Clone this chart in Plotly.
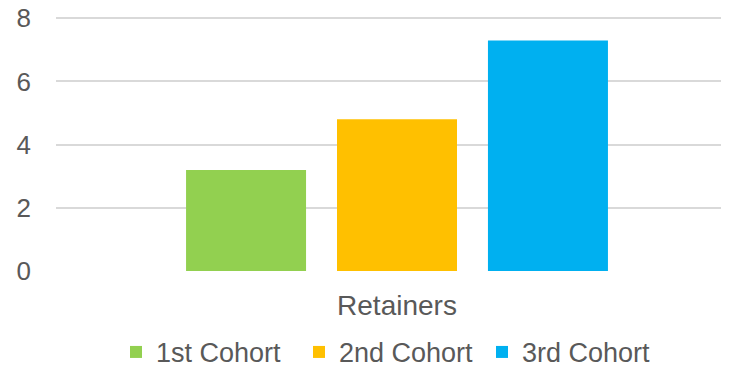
import plotly.graph_objects as go

categories = ["Retainers"]
series_names = ["1st Cohort", "2nd Cohort", "3rd Cohort"]
values_1st = [3.2]
values_2nd = [4.8]
values_3rd = [7.3]
colors = ["#92D050", "#FFC000", "#00B0F0"]
y_ticks = [0, 2, 4, 6, 8]

fig = go.Figure()
for name, vals, col in zip(series_names, [values_1st, values_2nd, values_3rd], colors):
    fig.add_trace(go.Bar(x=categories, y=vals, name=name,
                         marker=dict(color=col, line=dict(width=0))))

font_family = "Liberation Sans, Arial, sans-serif"
txt = "#595959"

# page body has an 8px margin, so the figure is offset by 8px
fig.update_layout(
    width=721, height=361,
    margin=dict(l=48, r=0, t=9, b=98, autoexpand=False),
    paper_bgcolor="white", plot_bgcolor="white",
    barmode="group", bargap=0.336, bargroupgap=0.205,
    font=dict(family=font_family, color=txt, size=25),
    showlegend=True,
    legend=dict(orientation="h", x=0.5305, xanchor="center", xref="container",
                y=0.046, yanchor="middle", yref="container",
                entrywidth=138, entrywidthmode="pixels",
                font=dict(size=27, color=txt), itemclick=False, traceorder="normal"),
    xaxis=dict(type="category", range=[-0.5, 0.4868], showgrid=False, showline=False,
               automargin=False,
               ticks="", tickfont=dict(size=28, color=txt), ticklabelstandoff=15),
    yaxis=dict(range=[0, 8.04], tickvals=y_ticks, showgrid=True, gridcolor="#D9D9D9",
               gridwidth=1.5, zeroline=False, showline=False, ticks="", automargin=False,
               ticklabeloverflow="allow",
               tickfont=dict(size=26, color=txt), ticklabelstandoff=24),
)

fig.write_html("out.html")
